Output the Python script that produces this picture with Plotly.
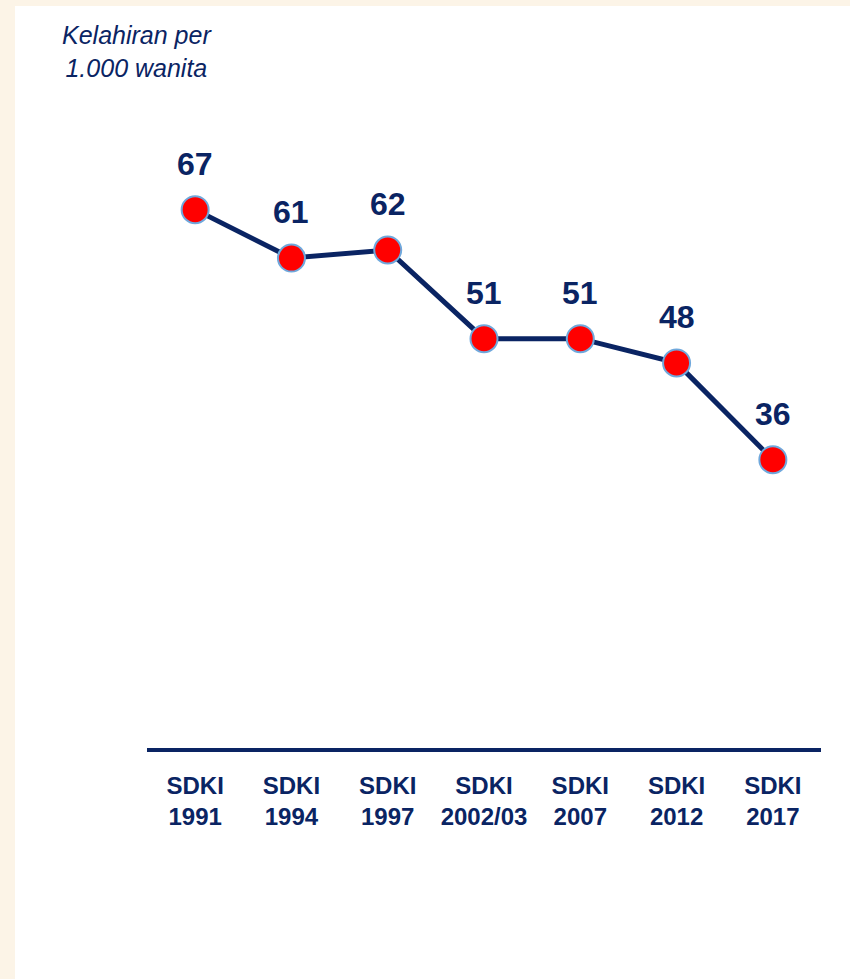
import plotly.graph_objects as go

categories = ["SDKI<br>1991", "SDKI<br>1994", "SDKI<br>1997", "SDKI<br>2002/03",
              "SDKI<br>2007", "SDKI<br>2012", "SDKI<br>2017"]
values = [67, 61, 62, 51, 51, 48, 36]
value_labels = ["67", "61", "62", "51", "51", "48", "36"]
y_title = "Kelahiran per<br>1.000 wanita"

NAVY = "#0A2463"
CREAM = "#FCF4E7"

W, H = 850, 979
L, R, T, B = 147, 29, 105, 229
pw = W - L - R
ph = H - T - B

fig = go.Figure()
fig.add_trace(go.Scatter(
    x=list(range(len(categories))), y=values,
    mode="lines+markers",
    line=dict(color=NAVY, width=5),
    marker=dict(size=27, color="#FF0000", line=dict(color="#6FA8DC", width=2)),
    hoverinfo="skip", showlegend=False, cliponaxis=False,
))

for i, (v, t) in enumerate(zip(values, value_labels)):
    fig.add_annotation(x=i, y=v, text=t, showarrow=False, yshift=46,
                       font=dict(family="Liberation Sans, Arial", size=32, color=NAVY, weight="bold"))

fig.add_annotation(xref="paper", yref="paper",
                   x=(137 - L) / pw, y=1 + (T - 52) / ph,
                   text=y_title, showarrow=False, xanchor="center", yanchor="middle",
                   font=dict(family="Liberation Sans, Arial", size=25, color=NAVY, style="italic"))

# cream borders
fig.add_shape(type="rect", xref="paper", yref="paper", layer="below",
              x0=-L / pw, x1=(15 - L) / pw, y0=-B / ph, y1=1 + T / ph,
              fillcolor=CREAM, line_width=0)
fig.add_shape(type="rect", xref="paper", yref="paper", layer="below",
              x0=-L / pw, x1=1 + R / pw, y0=1 + (T - 6) / ph, y1=1 + T / ph,
              fillcolor=CREAM, line_width=0)

fig.update_xaxes(
    range=[-0.5, 6.5], tickvals=list(range(len(categories))), ticktext=categories,
    showgrid=False, zeroline=False, showline=False, ticks="",
    tickfont=dict(family="Liberation Sans, Arial", size=24, color=NAVY, weight="bold"),
    ticklabelstandoff=19,
)
fig.update_yaxes(range=[0, (750 - T) / 8.065], showgrid=False, zeroline=True,
                 zerolinecolor=NAVY, zerolinewidth=4, showticklabels=False, showline=False)

fig.update_layout(
    width=W, height=H, margin=dict(l=L, r=R, t=T, b=B),
    paper_bgcolor="white", plot_bgcolor="white",
)

fig.write_html("out.html", config={"displayModeBar": False, "staticPlot": True})

with open("out.html", "r", encoding="utf-8") as f:
    html = f.read()
html = html.replace("<body>", '<body style="margin:0;overflow:hidden">', 1)
with open("out.html", "w", encoding="utf-8") as f:
    f.write(html)
